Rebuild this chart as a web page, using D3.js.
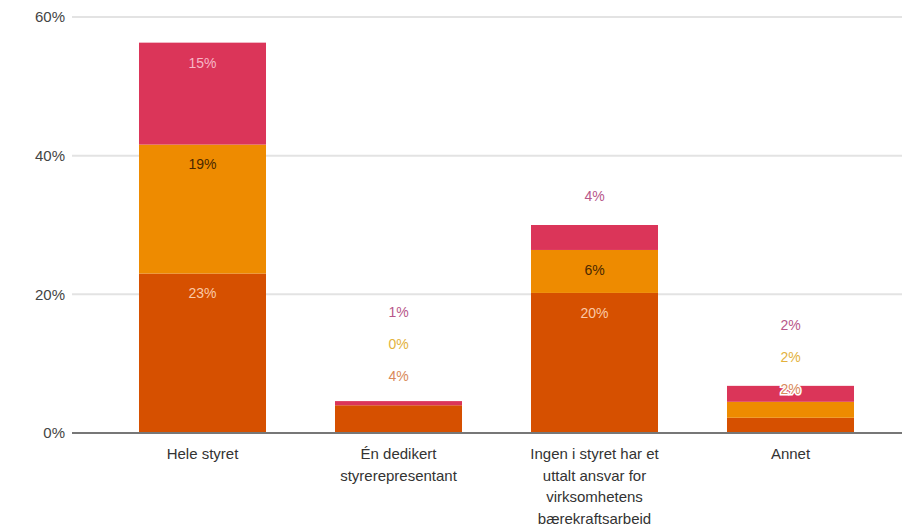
<!DOCTYPE html>
<html><head><meta charset="utf-8">
<script src="https://cdn.jsdelivr.net/npm/d3@7"></script>
<style>
html,body{margin:0;padding:0;background:#fff;}
svg{display:block;font-family:"Liberation Sans",Arial,sans-serif;}
</style></head>
<body><svg id="c" width="902" height="527"></svg>
<script>
const categories = [
  ["Hele styret"],
  ["Én dedikert", "styrerepresentant"],
  ["Ingen i styret har et", "uttalt ansvar for", "virksomhetens", "bærekraftsarbeid"],
  ["Annet"]
];
const seriesA = [23.0, 4.0, 20.2, 2.2];   // dark orange (bottom)
const seriesB = [18.6, 0.0, 6.2, 2.3];    // orange (middle)
const seriesC = [14.7, 0.6, 3.6, 2.3];    // red (top)
const labelsA = ["23%", "4%", "20%", "2%"];
const labelsB = ["19%", "0%", "6%", "2%"];
const labelsC = ["15%", "1%", "4%", "2%"];
const yTicks = [0, 20, 40, 60];

const colors = ["#d65000", "#ee8b00", "#db3559"];
const insideText = ["#fbc9a6", "#4a2800", "#f7b6c6"];
const outsideText = ["#d98a5a", "#e3b23c", "#b8578a"];

const svg = d3.select("#c");
const M = {left: 72, right: 902, top: 17, bottom: 433};

const y = d3.scaleLinear().domain([0, 60]).range([M.bottom, M.top]);
const x = d3.scaleBand().domain(d3.range(categories.length))
  .range([104.5, 888.5]).paddingInner(0.352).paddingOuter(0.176);

// gridlines
svg.append("g").selectAll("line").data(yTicks.filter(d => d > 0)).join("line")
  .attr("x1", M.left).attr("x2", M.right)
  .attr("y1", d => y(d)).attr("y2", d => y(d))
  .attr("stroke", "#e3e3e3").attr("stroke-width", 2);

// y axis labels
const yAxis = d3.axisLeft(y).tickValues(yTicks).tickFormat(d => d + "%").tickSize(0).tickPadding(0);
const ga = svg.append("g").attr("transform", `translate(${M.left - 7},0)`).call(yAxis);
ga.select(".domain").remove();
ga.selectAll("text").attr("font-size", 15).attr("fill", "#444").attr("font-family", "Liberation Sans, Arial, sans-serif");

// stacked data
const rows = categories.map((c, i) => ({i, a: seriesA[i], b: seriesB[i], c: seriesC[i]}));
const stack = d3.stack().keys(["a", "b", "c"])(rows);
const labelSets = [labelsA, labelsB, labelsC];

stack.forEach((layer, k) => {
  svg.append("g").selectAll("rect").data(layer).join("rect")
    .attr("x", d => x(d.data.i))
    .attr("width", x.bandwidth())
    .attr("y", d => y(d[1]))
    .attr("height", d => Math.max(0, y(d[0]) - y(d[1])))
    .attr("fill", colors[k]);
});

// baseline
svg.append("line").attr("x1", M.left).attr("x2", M.right)
  .attr("y1", y(0)).attr("y2", y(0)).attr("stroke", "#777").attr("stroke-width", 2);

// labels
const labG = svg.append("g").attr("font-size", 14).attr("text-anchor", "middle");
categories.forEach((c, i) => {
  let lastOutside = Infinity;
  stack.forEach((layer, k) => {
    const d = layer[i];
    const segTop = y(d[1]), segH = y(d[0]) - y(d[1]);
    const cx = x(i) + x.bandwidth() / 2;
    let cy, fill, halo = false;
    if (segH >= 30) {
      cy = segTop + 20; fill = insideText[k];
    } else {
      cy = Math.min(segTop - 29, lastOutside - 32);
      lastOutside = cy; fill = outsideText[k]; halo = true;
    }
    const t = labG.append("text").attr("x", cx).attr("y", cy).attr("dy", "0.35em")
      .attr("fill", fill).text(labelSets[k][i]);
    if (halo) t.attr("stroke", "#fff").attr("stroke-width", 3).attr("paint-order", "stroke");
  });
});

// category labels
const cg = svg.append("g").attr("font-size", 15).attr("fill", "#333").attr("text-anchor", "middle");
categories.forEach((lines, i) => {
  const t = cg.append("text").attr("x", x(i) + x.bandwidth() / 2).attr("y", 459);
  lines.forEach((ln, j) => t.append("tspan").attr("x", x(i) + x.bandwidth() / 2).attr("dy", j ? 21.5 : 0).text(ln));
});
</script></body></html>
